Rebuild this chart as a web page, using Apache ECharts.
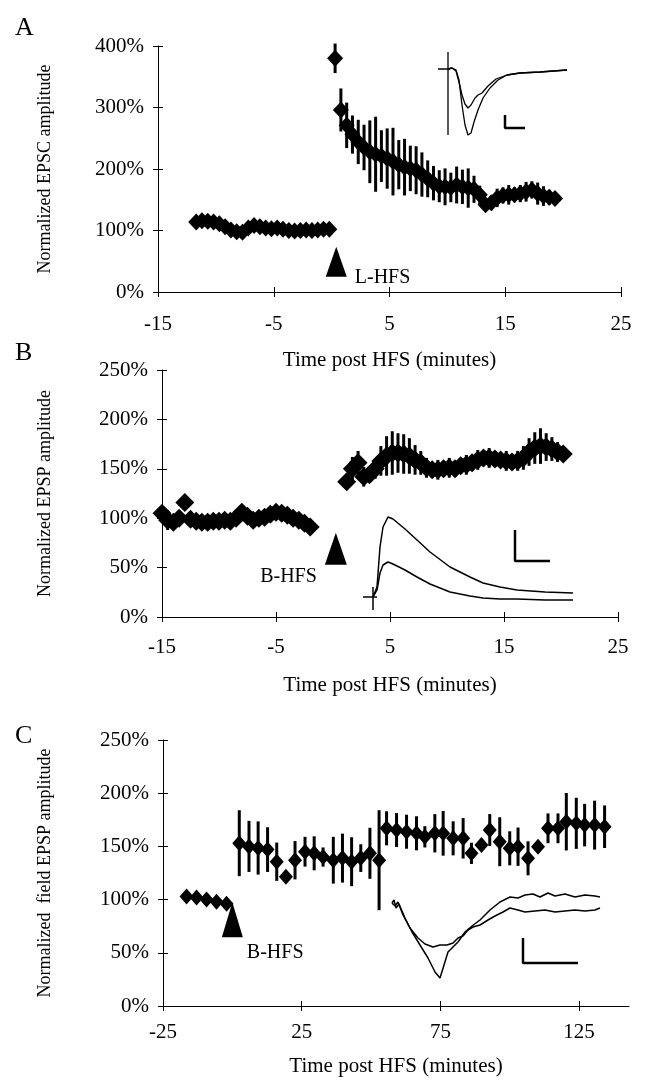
<!DOCTYPE html>
<html><head><meta charset="utf-8">
<script src="https://cdn.jsdelivr.net/npm/echarts@6/dist/echarts.min.js"></script>
<style>html,body{margin:0;padding:0;background:#fff}#c{width:651px;height:1081px}</style>
</head><body><div id="c"></div><script>
// ---------- Panel A (EPSC, L-HFS) ----------
const aPreT = [-11.7,-11.2,-10.7,-10.2,-9.7,-9.2,-8.7,-8.2,-7.7,-7.2,-6.7,-6.2,-5.7,-5.2,-4.7,-4.2,-3.7,-3.2,-2.7,-2.2,-1.7,-1.2,-0.7,-0.2];
const aPreV = [114,116,115,114,111,106,101,98,97,104,108,106,104,103,104,102,100,99,100,101,100,101,102,102];
const aPreE = [5,6,4,7,5,4,6,5,4,6,5,4,5,4,5,4,4,5,4,4,5,4,4,3];
const aPostT = [0.3,0.8,1.3,1.8,2.3,2.8,3.3,3.8,4.3,4.8,5.3,5.8,6.3,6.8,7.3,7.8,8.3,8.8,9.3,9.8,10.3,10.8,11.3,11.8,12.3,12.8,13.3,13.8,14.3,14.8,15.3,15.8,16.3,16.8,17.3,17.8,18.3,18.8,19.3];
const aPostV = [380,296,271,256,244,235,228,224,221,217,212,207,203,201,198,191,184,177,172,171,170,174,171,169,167,158,142,145,153,157,158,158,160,163,166,160,156,154,152];
const aPostE = [24,35,37,31,36,37,51,61,42,49,55,40,46,37,39,36,30,28,26,30,24,30,28,32,22,15,10,12,15,13,16,12,14,16,14,18,16,12,10];
// inset A (two EPSC traces)
const aTr1 = [[18,0],[22,1],[26,-1],[29,-11],[32,-36],[35,-56],[38,-66],[41,-64],[44,-53],[48,-41],[53,-29],[60,-19],[68,-11],[77,-6],[90,-4],[110,-3],[137,-1]];
const aTr2 = [[18,0],[22,1],[26,-2],[29,-13],[32,-26],[35,-35],[38,-39],[41,-36],[45,-29],[48,-26],[52,-24],[58,-17],[66,-10],[77,-6],[90,-4],[110,-3],[137,-1]];
const aArt = [[18,17],[18,-66]];
const aBase = [[8,0],[20,0]];
const aBar = [[75,-46],[75,-59],[95,-59]];

// ---------- Panel B (EPSP, B-HFS) ----------
const bPreT = [-15,-14.5,-14,-13.5,-13,-12.5,-12,-11.5,-11,-10.5,-10,-9.5,-9,-8.5,-8,-7.5,-7,-6.5,-6,-5.5,-5,-4.5,-4,-3.5,-3,-2.5,-2];
const bPreV = [105,98,96,100,116,99,97,96,96,97,97,98,97,100,106,102,98,100,101,104,106,105,103,100,98,95,91];
const bPreE = [6,10,6,5,4,5,5,4,5,5,4,5,4,5,6,5,4,5,4,5,5,5,4,5,4,5,4];
const bPostT = [1.2,1.7,2.2,2.7,3.2,3.7,4.2,4.7,5.2,5.7,6.2,6.7,7.2,7.7,8.2,8.7,9.2,9.7,10.2,10.7,11.2,11.7,12.2,12.7,13.2,13.7,14.2,14.7,15.2,15.7,16.2,16.7,17.2,17.7,18.2,18.7,19.2,19.7,20.2];
const bPostV = [137,150,156,142,144,150,158,163,166,166,165,163,159,156,151,149,149,150,151,150,153,154,156,159,161,161,160,159,158,157,158,161,167,171,173,172,170,167,165];
const bPostE = [8,12,12,10,8,10,15,20,22,20,20,18,15,12,10,8,10,8,10,8,8,10,8,10,8,10,8,8,10,8,10,12,14,16,18,14,12,10,8];
// inset B (two EPSP traces)
const bTr1 = [[18,0],[22,10],[25,50],[28,70],[33,80],[38,78],[50,68],[62,57],[75,45],[95,30],[115,20],[128,14],[145,10],[162,7],[190,5],[218,4]];
const bTr2 = [[18,0],[22,7],[25,24],[28,32],[33,35],[38,33],[50,27],[62,20],[75,13],[95,5],[115,1],[128,-1],[145,-2],[162,-2],[190,-3],[218,-3]];
const bArt = [[18,10],[18,-13]];
const bBase = [[8,0],[22,0]];
const bBar = [[160,67],[160,36],[195,36]];

// ---------- Panel C (field EPSP, B-HFS) ----------
const cPreT = [-16.5,-12.9,-9.3,-5.7,-2.1];
const cPreV = [103,102,100,98,96];
const cPreE = [0,0,0,0,0];
const cPostT = [2.5,6.0,9.3,12.7,16.0,19.3,22.6,26.2,29.5,32.7,36.4,39.7,43.0,46.3,49.6,52.9,55.6,59.2,62.8,66.4,69.4,73.0,76.0,79.6,83.2,86.2,89.8,92.8,96.4,100.0,103.0,106.6,110.2,113.8,117.4,120.4,124.0,127.0,130.6,134.2];
const cPostV = [153,150,148.5,147,135.6,121.5,137,145,143.5,140,137,139,135.6,139,143.5,137,167,165.4,163.8,162.3,159,162.3,162.3,157.6,157.6,143.5,151.3,165.4,154.4,148.2,149.7,138.8,149.7,167,167,173.2,171.7,170,170,168.5];
const cPostE = [31,24,25,21,18,5,18,14,16,9,22,23,23,13,24,47,16,16,16,16,10,18,21,16,19,10,5,15,23,16,18,16,3,14,14,27,24,20,23,20];
// inset C (two field EPSP traces)
const cTr1 = [[7,0],[9,3],[11,-5],[14,-1],[20,-15],[27,-29],[35,-42],[43,-55],[50,-69],[55,-75],[59,-62],[63,-49],[67,-45],[73,-39],[80,-29],[87,-23],[95,-17],[105,-7],[115,1],[125,6],[133,5],[140,8],[148,9],[155,6],[163,10],[170,7],[180,9],[190,6],[200,8],[210,7],[215,6]];
const cTr2 = [[7,0],[10,-3],[13,1],[18,-12],[25,-25],[33,-35],[40,-41],[48,-44],[55,-42],[62,-42],[68,-40],[73,-35],[78,-33],[83,-27],[88,-24],[95,-22],[103,-17],[110,-13],[118,-9],[125,-5],[133,-7],[140,-9],[150,-8],[160,-7],[170,-9],[180,-8],[190,-7],[200,-8],[210,-7],[215,-5]];
const cBar = [[138,-35],[138,-60],[193,-60]];

// tick labels
const aXTicks = [-15,-5,5,15,25];
const bXTicks = [-15,-5,5,15,25];
const cXTicks = [-25,25,75,125];

const FONT = 'Liberation Serif';
const pts = (t, v) => t.map((x, i) => [x, v[i]]);
const errs = (t, v, e) => t.map((x, i) => [x, v[i] - e[i], v[i] + e[i]]);

function errRender(params, api) {
  const x = api.value(0), lo = api.value(1), hi = api.value(2);
  if (hi - lo <= 0) return null;
  const p1 = api.coord([x, lo]), p2 = api.coord([x, hi]);
  return {type: 'line', shape: {x1: p1[0], y1: p1[1], x2: p2[0], y2: p2[1]},
          style: {stroke: '#000', lineWidth: 3}};
}

const grids = [
  {left: 158, top: 46, width: 463, height: 246},
  {left: 430, top: 45, width: 145, height: 100},
  {left: 162, top: 370, width: 456, height: 247},
  {left: 355, top: 505, width: 225, height: 110},
  {left: 163, top: 740, width: 466, height: 266},
  {left: 385, top: 890, width: 230, height: 100}
];

const xAxes = [], yAxes = [];
function mainAxes(g, xmin, xmax, xint, xticks, ymax, yint, yname, ygap, xlabMargin, xnameGap) {
  const tickStyle = {color: '#000', width: 1};
  xAxes.push({gridIndex: g, type: 'value', min: xmin, max: xmax, interval: xint, position: 'bottom',
    axisLine: {onZero: false, lineStyle: {color: '#000', width: 1}},
    axisTick: {length: 5, lineStyle: tickStyle, customValues: xticks},
    axisLabel: {customValues: xticks, color: '#000', fontFamily: FONT, fontSize: 21, margin: xlabMargin},
    splitLine: {show: false},
    name: 'Time post HFS (minutes)', nameLocation: 'middle', nameGap: xnameGap,
    nameTextStyle: {color: '#000', fontFamily: FONT, fontSize: 21}});
  xAxes.push({gridIndex: g, type: 'value', min: xmin, max: xmax, interval: xint, position: 'bottom',
    axisLine: {show: false, onZero: false}, axisTick: {inside: true, length: 5, lineStyle: tickStyle, customValues: xticks},
    axisLabel: {show: false}, splitLine: {show: false}});
  yAxes.push({gridIndex: g, type: 'value', min: 0, max: ymax, interval: yint, position: 'left',
    axisLine: {show: true, onZero: false, lineStyle: {color: '#000', width: 1}},
    axisTick: {show: true, length: 5, lineStyle: tickStyle},
    axisLabel: {formatter: '{value}%', color: '#000', fontFamily: FONT, fontSize: 21, margin: 14},
    splitLine: {show: false},
    name: yname, nameLocation: 'middle', nameGap: ygap, nameRotate: 90,
    nameTextStyle: {color: '#000', fontFamily: FONT, fontSize: 18}});
  yAxes.push({gridIndex: g, type: 'value', min: 0, max: ymax, interval: yint, position: 'left',
    axisLine: {show: false, onZero: false}, axisTick: {show: true, inside: true, length: 5, lineStyle: tickStyle},
    axisLabel: {show: false}, splitLine: {show: false}});
}
function insetAxes(g, xmin, xmax, ymin, ymax) {
  xAxes.push({gridIndex: g, type: 'value', min: xmin, max: xmax, show: false});
  yAxes.push({gridIndex: g, type: 'value', min: ymin, max: ymax, show: false});
}
mainAxes(0, -15, 25, 10, aXTicks, 400, 100, 'Normalized EPSC amplitude', 104, 22, 58);
insetAxes(1, 0, 145, -76, 24);
mainAxes(2, -15, 25, 10, bXTicks, 250, 50, 'Normalized EPSP amplitude', 108, 20, 58);
insetAxes(3, 0, 225, -18, 92);
mainAxes(4, -25, 143, 50, cXTicks, 250, 50, 'Normalized  field EPSP amplitude', 109, 16, 50);
insetAxes(5, 0, 230, -87, 13);
// axis index map: A main 0, A inset 2, B main 3, B inset 5, C main 6, C inset 8
const AX = {A: 0, Ai: 2, B: 3, Bi: 5, C: 6, Ci: 8};

const series = [];
function panel(ax, preT, preV, preE, postT, postV, postE, dsize, tri, label, labelPos, labelOffset, labelDist) {
  series.push({type: 'custom', xAxisIndex: ax, yAxisIndex: ax, renderItem: errRender,
    data: errs(preT.concat(postT), preV.concat(postV), preE.concat(postE)), z: 2, silent: true});
  series.push({type: 'scatter', xAxisIndex: ax, yAxisIndex: ax, symbol: 'diamond', symbolSize: dsize,
    itemStyle: {color: '#000', opacity: 1}, data: pts(preT.concat(postT), preV.concat(postV)), z: 3, silent: true});
  series.push({type: 'scatter', xAxisIndex: ax, yAxisIndex: ax, symbol: 'triangle', symbolSize: tri.size,
    itemStyle: {color: '#000', opacity: 1}, data: [tri.pos], z: 4, silent: true,
    label: {show: true, formatter: label, position: labelPos, distance: labelDist, offset: labelOffset,
      color: '#000', opacity: 1, fontFamily: FONT, fontSize: 20}});
}
function inset(ax, lines) {
  lines.forEach(l => series.push({type: 'line', xAxisIndex: ax, yAxisIndex: ax, data: l.d, symbol: 'none',
    lineStyle: {color: '#000', width: l.w}, z: 5, silent: true, animation: false}));
}
panel(AX.A, aPreT, aPreV, aPreE, aPostT, aPostV, aPostE, [16, 17], {pos: [0.4, 49], size: [21, 30]}, 'L-HFS', 'right', [0, 16], 8);
panel(AX.B, bPreT, bPreV, bPreE, bPostT, bPostV, bPostE, [19, 19], {pos: [0.25, 69], size: [22, 32]}, 'B-HFS', 'left', [0, 28], 8);
panel(AX.C, cPreT, cPreV, cPreE, cPostT, cPostV, cPostE, [14, 16], {pos: [0, 81], size: [21, 35]}, 'B-HFS', 'right', [0, 33], 4);
inset(AX.Ai, [{d: aTr1, w: 1.3}, {d: aTr2, w: 1.3}, {d: aArt, w: 1.3}, {d: aBase, w: 1.3}, {d: aBar, w: 2.5}]);
inset(AX.Bi, [{d: bTr1, w: 1.5}, {d: bTr2, w: 1.5}, {d: bArt, w: 1.5}, {d: bBase, w: 1.5}, {d: bBar, w: 2.5}]);
inset(AX.Ci, [{d: cTr1, w: 1.5}, {d: cTr2, w: 1.5}, {d: cBar, w: 2.5}]);

const chart = echarts.init(document.getElementById('c'), null, {renderer: 'canvas'});
chart.setOption({
  animation: false,
  backgroundColor: '#fff',
  title: [
    {text: 'A', left: 10, top: 10, textStyle: {fontFamily: FONT, fontSize: 26, fontWeight: 'normal', color: '#000'}},
    {text: 'B', left: 10, top: 335, textStyle: {fontFamily: FONT, fontSize: 26, fontWeight: 'normal', color: '#000'}},
    {text: 'C', left: 10, top: 718, textStyle: {fontFamily: FONT, fontSize: 26, fontWeight: 'normal', color: '#000'}}
  ],
  grid: grids,
  xAxis: xAxes,
  yAxis: yAxes,
  series: series
});
</script></body></html>
